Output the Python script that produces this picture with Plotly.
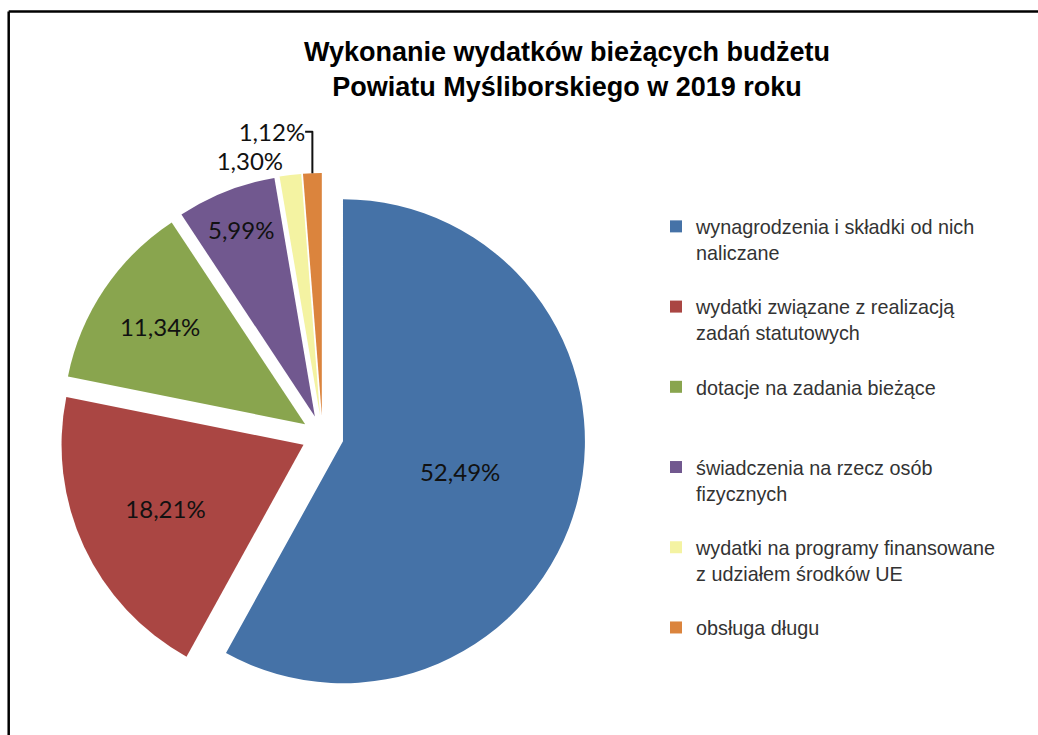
import plotly.graph_objects as go

categories = [
    "wynagrodzenia i składki od nich<br>naliczane<br> ",
    "wydatki związane z realizacją<br>zadań statutowych<br> ",
    "dotacje na zadania bieżące<br> <br> ",
    "świadczenia na rzecz osób<br>fizycznych<br> ",
    "wydatki na programy finansowane<br>z udziałem środków UE<br> ",
    "obsługa długu<br> <br> ",
]
values = [52.49, 18.21, 11.34, 5.99, 1.30, 1.12]
value_labels = ["52,49%", "18,21%", "11,34%", "5,99%", "1,30%", "1,12%"]
colors = ["#4572A7", "#AA4643", "#89A54E", "#71588F", "#F4F3A2", "#DB843D"]
title_text = "Wykonanie wydatków bieżących budżetu<br>Powiatu Myśliborskiego w 2019 roku"

W, H = 1038, 735


def px_x(x):
    return x / W


def px_y(y):
    return 1 - y / H


fig = go.Figure(go.Pie(
    labels=categories,
    values=values,
    text=value_labels,
    texttemplate="%{text}",
    textinfo="text",
    textposition=["inside", "inside", "inside", "inside", "outside", "outside"],
    insidetextorientation="horizontal",
    textfont=dict(family="Lato", size=24, color="#111111"),
    outsidetextfont=dict(family="Lato", size=24, color="#111111"),
    marker=dict(colors=colors, line=dict(width=0)),
    pull=0.087,
    sort=False,
    direction="clockwise",
    rotation=0,
    domain=dict(x=[px_x(59.6), px_x(585.6)], y=[px_y(699), px_y(173)]),
    hoverinfo="label+text",
))

fig.update_layout(
    width=W, height=H,
    margin=dict(l=0, r=0, t=0, b=0),
    paper_bgcolor="white",
    plot_bgcolor="white",
    title=dict(text=title_text, x=px_x(567), xanchor="center", xref="paper",
               y=px_y(61), yanchor="top", yref="paper",
               font=dict(family="Liberation Sans", size=27, color="#000000", weight="bold")),
    legend=dict(x=px_x(656), xanchor="left", y=px_y(207), yanchor="top",
                valign="top", font=dict(family="Liberation Sans", size=19.8, color="#333333"),
                bgcolor="rgba(0,0,0,0)"),
    shapes=[
        dict(type="line", xref="paper", yref="paper",
             x0=px_x(8.7), x1=1.5, y0=px_y(11.5), y1=px_y(11.5),
             line=dict(color="#000000", width=2.5)),
        dict(type="line", xref="paper", yref="paper",
             x0=px_x(8.7), x1=px_x(8.7), y0=-0.5, y1=px_y(11.5),
             line=dict(color="#000000", width=2.5)),
    ],
)

fig.write_html(
    "out.html",
    config={"displayModeBar": False},
    post_script="document.body.style.margin='0';document.body.style.overflow='hidden';",
)
